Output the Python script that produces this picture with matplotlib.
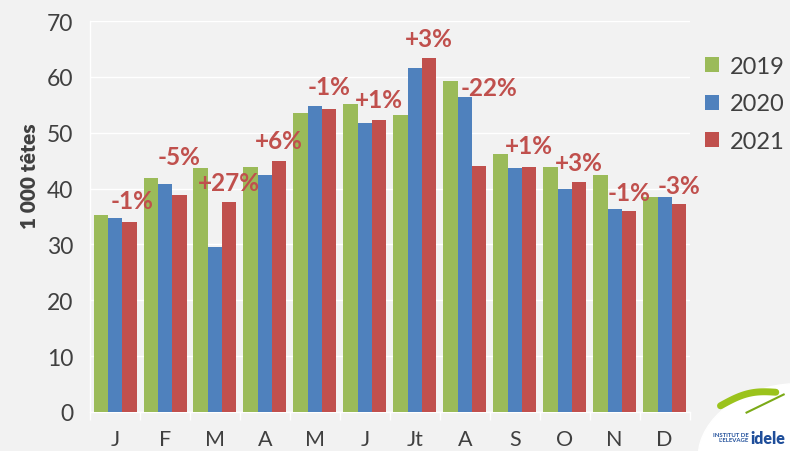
import matplotlib
matplotlib.use("Agg")
import matplotlib.pyplot as plt
import numpy as np
from matplotlib.patches import Ellipse

months = ["J", "F", "M", "A", "M", "J", "Jt", "A", "S", "O", "N", "D"]
v2019 = [35.3, 41.9, 43.6, 43.8, 53.5, 55.2, 53.1, 59.3, 46.2, 43.8, 42.4, 38.5]
v2020 = [34.7, 40.9, 29.6, 42.4, 54.7, 51.7, 61.6, 56.4, 43.6, 40.0, 36.4, 38.5]
v2021 = [34.1, 38.9, 37.6, 44.9, 54.3, 52.3, 63.4, 44.0, 43.8, 41.2, 36.0, 37.3]
pct_labels = ["-1%", "-5%", "+27%", "+6%", "-1%", "+1%", "+3%", "-22%", "+1%", "+3%", "-1%", "-3%"]
years = ["2019", "2020", "2021"]

# layout: vertical centre of each variation label (data units) and small x shift
label_y = [37.8, 45.8, 41.0, 48.6, 58.2, 56.0, 66.9, 58.1, 47.7, 44.6, 39.3, 40.5]
label_dx = [0.06, 0, 0, 0, 0, 0, 0, 0.2, 0, 0, 0, 0]

colors = ["#9BBB59", "#4F81BD", "#C0504D"]
bg = "#F2F2F2"
txt = "#404040"
plt.rcParams["font.family"] = ["Lato", "DejaVu Sans"]

fig = plt.figure(figsize=(7.9, 4.52), dpi=100, facecolor=bg)
ax = fig.add_axes([0.114, 0.0863, 0.759, 0.865], facecolor=bg)

x = np.arange(len(months))
w = 0.287
for i, (vals, c, lab) in enumerate(zip([v2019, v2020, v2021], colors, years)):
    ax.bar(x + (i - 1) * w, vals, width=w, color=c, label=lab, zorder=3, linewidth=0)

for xi, ly, dx, t in zip(x, label_y, label_dx, pct_labels):
    ax.text(xi + w + dx, ly, t, ha="center", va="center", color="#C0504D",
            fontsize=17.5, fontweight="bold", zorder=4)

ax.set_ylim(0, 70)
ax.set_xlim(-0.5, len(months) - 0.5)
ax.set_yticks(range(0, 71, 10))
ax.yaxis.grid(True, color="white", linewidth=1.0, zorder=0)
ax.set_xticks(x)
ax.set_xticklabels(months)
ax.set_xticks(np.arange(-0.5, len(months)), minor=True)
ax.tick_params(axis="x", which="major", length=0, pad=12, labelsize=15.5, labelcolor=txt)
ax.tick_params(axis="x", which="minor", length=6, color="white", width=1)
ax.tick_params(axis="y", length=0, pad=12, labelsize=16.5, labelcolor=txt)
for s in ["top", "right"]:
    ax.spines[s].set_visible(False)
ax.spines["left"].set_color("white")
ax.spines["bottom"].set_color("white")
ax.spines["left"].set_linewidth(1)
ax.spines["bottom"].set_linewidth(1)

fig.text(0.037, 0.61, "1 000 têtes", rotation=90, ha="center", va="center",
         fontsize=15, fontweight="heavy", color=txt)

leg = ax.legend(loc="upper left", bbox_to_anchor=(0.99, 0.965), frameon=False,
                fontsize=17, labelcolor=txt, handlelength=0.6, handleheight=0.6,
                handletextpad=0.45, labelspacing=0.7)

# logo
ell = Ellipse((1.0, 0.0), 0.23, 0.3, angle=-10, transform=fig.transFigure, color="white", zorder=5)
fig.patches.append(ell)
t_ = np.linspace(0, 1, 50)
fig.add_artist(plt.Line2D(0.912 + 0.07 * t_, 0.10 + 0.03 * t_ + 0.012 * np.sin(np.pi * t_),
                          transform=fig.transFigure, color="#9BC31C", linewidth=5,
                          solid_capstyle="round", zorder=6))
fig.add_artist(plt.Line2D([0.945, 0.992], [0.085, 0.125], transform=fig.transFigure,
                          color="#7BAA17", linewidth=1.5, zorder=6))
fig.text(0.948, 0.03, "INSTITUT DE\nL'ELEVAGE", fontsize=4.3, fontweight="bold",
         color="#1F4E9A", ha="right", va="center", zorder=7, linespacing=1.0)
fig.text(0.994, 0.028, "idele", fontsize=11.5, fontweight="heavy", color="#1F4E9A",
         ha="right", va="center", zorder=7)

fig.savefig("out.png", dpi=100, facecolor=bg)
